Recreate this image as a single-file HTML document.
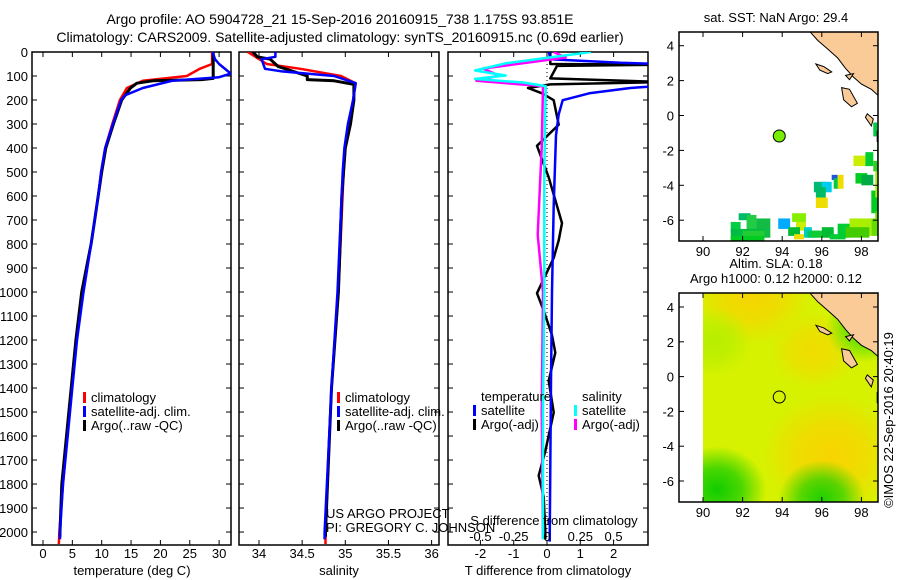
<!DOCTYPE html>
<html><head><meta charset="utf-8">
<style>
body{margin:0;background:#fff;}
svg{display:block;font-family:"Liberation Sans",sans-serif;}
text{fill:#000;}
</style></head>
<body>
<svg id="fig" width="900" height="580" viewBox="0 0 900 580" xmlns="http://www.w3.org/2000/svg">
<text x="340" y="24" font-size="14" text-anchor="middle">Argo profile: AO 5904728_21 15-Sep-2016 20160915_738 1.175S 93.851E</text>
<text x="340" y="42" font-size="14" text-anchor="middle">Climatology: CARS2009. Satellite-adjusted climatology: synTS_20160915.nc (0.69d earlier)</text>
<g id="g1"></g>
<g id="g2"></g>
<g id="g3"></g>
<g id="m1"></g>
<g id="m2"></g>
<text transform="translate(893,420) rotate(-90)" font-size="13" text-anchor="middle">©IMOS 22-Sep-2016 20:40:19</text>
</svg>
<script>
// ---- data ----
const tempClimDepth=[0,50,70,100,120,150,200,300,400,500,600,700,800,1000,1200,1400,1600,1800,2000,2050];
const tempClim=[28.8,28.8,26.7,24.5,17,14.3,13.1,11.8,10.6,9.9,9.4,8.8,8.2,6.8,5.7,4.9,4.1,3.4,2.8,2.7];
const tempSatDepth=[0,30,50,90,105,120,150,180,200,300,400,500,600,700,800,1000,1200,1400,1600,1800,2000,2030];
const tempSat=[28.9,29.3,30,32,30,22,17,14,13.3,11.9,10.6,9.9,9.4,8.8,8.2,6.9,5.8,5,4.2,3.4,2.9,2.9];
const tempArgoDepth=[0,50,110,115,120,130,150,200,300,400,500,600,700,800,1000,1200,1400,1600,1800,2000,2020];
const tempArgo=[29,29,29,27,18.7,16,14.9,13.4,12,10.7,10,9.4,8.8,8.2,6.6,5.6,4.8,4,3.2,2.9,2.9];
const salClimDepth=[0,50,70,100,130,200,300,400,500,1000,1400,2000,2050];
const salClim=[33.87,34.09,34.48,34.95,35.12,35.09,35.04,35.0,34.98,34.92,34.84,34.77,34.77];
const salSatDepth=[0,20,30,70,80,100,130,200,300,400,500,1000,1400,2000,2030];
const salSat=[34.19,34.19,34.03,34.07,34.25,34.87,35.12,35.09,35.03,34.99,34.97,34.91,34.84,34.76,34.76];
const salArgoDepth=[0,20,30,60,100,115,120,135,200,300,400,600,800,1000,1400,2000,2020];
const salArgo=[33.93,33.98,34.13,34.22,34.56,34.56,34.87,35.1,35.1,35.06,35.0,34.96,34.94,34.92,34.84,34.77,34.77];
const dTSatDepth=[0,30,45,50,140,150,172,201,260,347,639,1000,1370,2040];
const dTSat=[0.06,0.1,2.2,3.5,3.5,2.5,1.27,0.47,0.35,0.27,0.2,0.15,0.12,0.08];
const dTArgoDepth=[0,50,53,58,110,125,135,150,172,201,303,391,522,713,785,858,1005,1078,1180,1253,1370,1502,1663,1765,1853,1999,2030];
const dTArgo=[0.1,0.1,3.5,0.3,0.1,3.5,0.1,-0.57,-0.15,0.2,0.35,-0.3,0.05,0.45,0.35,0.2,-0.3,-0.1,0.15,0.25,0.05,0.2,-0.05,-0.25,-0.1,-0.05,-0.05];
const dSSatDepth=[0,47,77,98,112,127,142,500,1000,1500,2030];
const dSSat=[0.33,-0.31,-0.54,-0.31,-0.54,-0.18,-0.01,-0.02,-0.02,-0.03,-0.03];
const dSArgoDepth=[0,23,69,98,120,142,400,760,1000,1500,2030];
const dSArgo=[0.05,0.14,-0.48,-0.36,-0.53,-0.03,-0.04,-0.07,-0.03,-0.04,-0.03];
const depthTicks=[0,100,200,300,400,500,600,700,800,900,1000,1100,1200,1300,1400,1500,1600,1700,1800,1900,2000];
const tempTicks=[0,5,10,15,20,25,30];
const salTicks=[34,34.5,35,35.5,36];
const dTTicks=[-2,-1,0,1,2];
const dSTicks=[-0.5,-0.25,0,0.25,0.5];
const dSTickLabels=["-0.5","-0.25","0","0.25","0.5"];
const latTicks=[4,2,0,-2,-4,-6];
const lonTicks=[90,92,94,96,98];
const argoLon=93.851, argoLat=-1.175;
// SST cells: [lon, lat(top), w, h, color]
const sstLon=[91.4,91.8,92.2,92.7,91.4,92.0,91.4,93.8,94.5,94.7,95.1,94.3,95.2,95.6,95.7,96.0,96.5,96.6,96.8,97.7,98.0,98.5,98.7,98.8,98.5,97.4,96.8,97.2,95.3,95.5,96.0,96.4,98.6,98.8,94.6,95.7,97.6,98.2,98.6,98.7];
const sstLat=[-6.1,-5.6,-5.7,-5.9,-6.5,-6.6,-6.9,-5.9,-5.6,-6.1,-6.4,-6.4,-6.6,-3.8,-4.7,-3.8,-3.4,-3.6,-3.4,-3.3,-3.4,-4.3,-3.2,-1.5,-5.9,-5.9,-6.2,-6.4,-6.6,-6.6,-6.4,-6.8,-0.4,-1.4,-6.8,-4.1,-2.3,-2.1,-2.6,-5.5];
const sstCol=["#00cc44","#00bb66","#22cc44","#11bb44","#00bb44","#22cc33","#00cc22","#00aaff","#88ee00","#ccee00","#00cccc","#00bb33","#00cc99","#00bb77","#eedd00","#00ccee","#2255dd","#00cc44","#eedd00","#00cc22","#00aa44","#00cc22","#aaee00","#00cc22","#66dd00","#aaee00","#00cc33","#44cc00","#00cc55","#11cc33","#00bb33","#00cc33","#00cc44","#22cc22","#eedd00","#00bb66","#ccee00","#00cc33","#33cc22","#66dd00"];
const sstW=[0.5,0.6,0.5,0.7,1.7,1.1,1.7,0.6,0.7,0.5,0.4,0.6,0.5,0.6,0.6,0.5,0.3,0.3,0.3,0.6,0.6,0.7,0.3,0.2,0.9,1.1,0.6,1.2,0.6,1.1,0.6,0.8,0.2,0.2,0.5,0.5,0.6,0.4,0.3,0.4];
const sstH=[0.6,0.4,1.0,1.1,0.6,0.5,0.3,0.6,0.5,0.5,0.6,0.5,0.4,0.6,0.6,0.6,0.3,0.6,0.8,0.6,0.6,1.3,1.5,1.8,1.0,1.0,0.8,0.6,0.4,0.4,0.6,0.3,0.8,1.0,0.3,0.6,0.6,0.8,0.6,0.5];

// ---- helpers ----
const NS="http://www.w3.org/2000/svg";
function mk(tag,attrs,parent){const e=document.createElementNS(NS,tag);for(const k in attrs)e.setAttribute(k,attrs[k]);parent.appendChild(e);return e;}
const PT=52,PB=545,DMAX=2054;
const yD=d=>PT+d*(PB-PT)/DMAX;
function linePts(xs,ds,xf){return xs.map((v,i)=>xf(v).toFixed(1)+","+yD(ds[i]).toFixed(1)).join(" ");}

function panel(g,x0,x1,xf,ticks,labels,showDepth,name){
  const cp="clip"+name;
  const defs=mk("defs",{},g);
  const c=mk("clipPath",{id:cp},defs);
  mk("rect",{x:x0,y:PT,width:x1-x0,height:PB-PT},c);
  const fr=mk("rect",{x:x0,y:PT,width:x1-x0,height:PB-PT,fill:"none",stroke:"#000","stroke-width":1.5},g);
  
  
  depthTicks.forEach(d=>{
    const y=yD(d);
    mk("line",{x1:x0,x2:x0+5,y1:y,y2:y,stroke:"#000"},g);
    mk("line",{x1:x1-5,x2:x1,y1:y,y2:y,stroke:"#000"},g);
    if(showDepth){const t=mk("text",{x:x0-4,y:y+5,"font-size":13,"text-anchor":"end"},g);t.textContent=d;
      
      }
  });
  ticks.forEach((v,i)=>{
    const x=xf(v);
    mk("line",{x1:x,x2:x,y1:PT,y2:PT+5,stroke:"#000"},g);
    mk("line",{x1:x,x2:x,y1:PB-5,y2:PB,stroke:"#000"},g);
    if(labels){const t=mk("text",{x:x,y:558,"font-size":13,"text-anchor":"middle"},g);t.textContent=labels[i];
      
      }
  });
  return cp;
}
function series(g,cp,xs,ds,xf,color,w,name){
  const p=mk("polyline",{points:linePts(xs,ds,xf),fill:"none",stroke:color,"stroke-width":w,"clip-path":"url(#"+cp+")","stroke-linejoin":"round"},g);
  
  
}
function label(g,x,y,txt,name,size,anchor){
  const t=mk("text",{x:x,y:y,"font-size":size||13,"text-anchor":anchor||"start"},g);t.textContent=txt;
  
  
  return t;
}
function legendBar(g,x,y,color){mk("rect",{x:x,y:y-10,width:3,height:11,fill:color},g);}

// ---- panel 1: temperature ----
const g1=document.getElementById("g1");
const xT=v=>43+v*5.87;
const cp1=panel(g1,32,231,xT,tempTicks,tempTicks.map(String),true,"temperature");
series(g1,cp1,tempClim,tempClimDepth,xT,"#ff0000",2.5,"temp-climatology-line");
series(g1,cp1,tempArgo,tempArgoDepth,xT,"#000",3,"temp-argo-line");
series(g1,cp1,tempSat,tempSatDepth,xT,"#0000ff",2.5,"temp-satellite-line");
label(g1,132,575,"temperature (deg C)","temperature-axis-title",13,"middle");
[["climatology","#ff0000"],["satellite-adj. clim.","#0000ff"],["Argo(..raw -QC)","#000"]].forEach((e,i)=>{
  legendBar(g1,83,402+i*14,e[1]);label(g1,91,402+i*14,e[0],"temp-legend-entry");});

// ---- panel 2: salinity ----
const g2=document.getElementById("g2");
const xS=v=>259+(v-34)*86.3;
const cp2=panel(g2,239,439,xS,salTicks,salTicks.map(String),false,"salinity");
series(g2,cp2,salClim,salClimDepth,xS,"#ff0000",2.5,"sal-climatology-line");
series(g2,cp2,salArgo,salArgoDepth,xS,"#000",3,"sal-argo-line");
series(g2,cp2,salSat,salSatDepth,xS,"#0000ff",2.5,"sal-satellite-line");
label(g2,339,575,"salinity","salinity-axis-title",13,"middle");
[["climatology","#ff0000"],["satellite-adj. clim.","#0000ff"],["Argo(..raw -QC)","#000"]].forEach((e,i)=>{
  legendBar(g2,337,402+i*14,e[1]);label(g2,345,402+i*14,e[0],"sal-legend-entry");});
label(g2,326,518,"US ARGO PROJECT","project-credit",13);
label(g2,326,532,"PI: GREGORY C. JOHNSON","pi-credit",13);

// ---- panel 3: differences ----
const g3=document.getElementById("g3");
const xDT=v=>547+v*33.3;
const xDS=v=>547+v*133.2;
const cp3=panel(g3,448,648,xDT,dTTicks,dTTicks.map(String),false,"difference");
mk("line",{x1:547,x2:547,y1:PT,y2:PB,stroke:"#000","stroke-dasharray":"1,3"},g3);
series(g3,cp3,dTArgo,dTArgoDepth,xDT,"#000",2.5,"dT-argo-line");
series(g3,cp3,dTSat,dTSatDepth,xDT,"#0000ff",2.5,"dT-satellite-line");
series(g3,cp3,dSArgo,dSArgoDepth,xDS,"#ff00ff",2.5,"dS-argo-line");
series(g3,cp3,dSSat,dSSatDepth,xDS,"#00ffff",2.5,"dS-satellite-line");
dSTicks.forEach((v,i)=>label(g3,xDS(v),541,dSTickLabels[i],"dS-tick-label",13,"middle"));
label(g3,554,525,"S difference from climatology","dS-axis-title",13,"middle");
label(g3,548,575,"T difference from climatology","dT-axis-title",13,"middle");
label(g3,481,401,"temperature","legend-temperature-header");
label(g3,582,401,"salinity","legend-salinity-header");
legendBar(g3,473,415,"#0000ff");label(g3,481,415,"satellite","legend-temp-satellite");
legendBar(g3,473,429,"#000");label(g3,481,429,"Argo(-adj)","legend-temp-argo");
legendBar(g3,574,415,"#00ffff");label(g3,582,415,"satellite","legend-sal-satellite");
legendBar(g3,574,429,"#ff00ff");label(g3,582,429,"Argo(-adj)","legend-sal-argo");

// ---- maps ----
const land=[[95.4,4.8],[95.8,4.3],[96.2,3.9],[96.8,3.3],[97.2,2.7],[97.6,2.2],[98.0,1.8],[98.5,1.5],[98.8,1.2],[99.1,1.0],[99.1,4.8]];
const land2=[[98.8,-0.9],[99.1,-0.7],[99.1,-1.8],[98.8,-1.5]];
const isl=[[[95.7,2.95],[96.1,2.8],[96.5,2.5],[96.3,2.4],[95.9,2.6]],[[97.0,1.6],[97.4,1.5],[97.8,0.7],[97.5,0.5],[97.1,0.9]],[[98.3,0.1],[98.6,-0.2],[98.5,-0.6],[98.2,-0.1]],[[97.2,2.3],[97.6,2.4],[97.4,2.05]]];
function drawMap(gid,top,bottom,yLat4,yLat6,titleLines,sla){
  const g=document.getElementById(gid);
  const X=l=>703+(l-90)*19.8;
  const Y=la=>yLat4+(4-la)*(yLat6-yLat4)/10;
  const cp="clip"+gid;
  const d=mk("defs",{},g);
  const c=mk("clipPath",{id:cp},d);
  mk("rect",{x:679,y:top,width:199,height:bottom-top},c);
  const c2=mk("clipPath",{id:cp+"r"},d);
  mk("rect",{x:703,y:top,width:175,height:bottom-top},c2);
  const gc=mk("g",{"clip-path":"url(#"+cp+")"},g);
  if(sla){
    const gr2=mk("g",{"clip-path":"url(#"+cp+"r)"},gc);
    const blobs=[[92.5,4.8,3,"#f6d400"],[96.5,-4.5,3.5,"#f8d400"],[95.6,1.5,2.2,"#f0dc00"],[90.7,-6.5,2.5,"#10cc00"],[96,-7,2.2,"#20d000"],[98.2,2.8,2,"#50dd00"],[98.6,4.6,1,"#20cc00"],[90.5,2,2,"#b8ee00"]];
    mk("rect",{x:X(90),y:top,width:200,height:bottom-top,fill:"#d6f200"},gr2);
    blobs.forEach((b,i)=>{
      const gr=mk("radialGradient",{id:"bl"+i},d);
      mk("stop",{offset:"0","stop-color":b[3],"stop-opacity":1},gr);
      mk("stop",{offset:"0.5","stop-color":b[3],"stop-opacity":0.7},gr);
      mk("stop",{offset:"1","stop-color":b[3],"stop-opacity":0},gr);
      mk("ellipse",{cx:X(b[0]),cy:Y(b[1]),rx:b[2]*19.8,ry:b[2]*17.4,fill:"url(#bl"+i+")"},gr2);
    });
  } else {
    sstLon.forEach((lo,i)=>{
      const r=mk("rect",{x:X(lo),y:Y(sstLat[i]),width:sstW[i]*19.8,height:sstH[i]*17.45,fill:sstCol[i]},gc);
      
      
    });
  }
  const pts=a=>a.map(p=>X(p[0]).toFixed(1)+","+Y(p[1]).toFixed(1)).join(" ");
  [land,land2].concat(isl).forEach(a=>{
    const p=mk("polygon",{points:pts(a),fill:"#fbcb97",stroke:"#000","stroke-width":1},gc);
    
    
  });
  const fr=mk("rect",{x:679,y:top,width:199,height:bottom-top,fill:"none",stroke:"#000","stroke-width":1.5},g);
  
  
  latTicks.forEach(la=>{const y=Y(la);mk("line",{x1:679,x2:684,y1:y,y2:y,stroke:"#000"},g);mk("line",{x1:873,x2:878,y1:y,y2:y,stroke:"#000"},g);
    label(g,674,y+5,String(la),gid+"-lat-label",13,"end");});
  lonTicks.forEach(lo=>{const x=X(lo);mk("line",{x1:x,x2:x,y1:top,y2:top+5,stroke:"#000"},g);mk("line",{x1:x,x2:x,y1:bottom-5,y2:bottom,stroke:"#000"},g);
    label(g,x,bottom+15,String(lo),gid+"-lon-label",13,"middle");});
  const ci=mk("circle",{cx:X(argoLon),cy:Y(argoLat),r:6,fill:sla?"none":"#77ee00",stroke:"#000","stroke-width":1},g);
  
  
  titleLines.forEach((t,i)=>label(g,776,top-(titleLines.length-1-i)*15-10,t,gid+"-title",13,"middle"));
}
drawMap("m1",32,241,45.7,220.2,["sat. SST: NaN Argo: 29.4"],false);
drawMap("m2",293,502,307,481,["Altim. SLA: 0.18","Argo h1000: 0.12 h2000: 0.12"],true);
</script>
</body></html>
